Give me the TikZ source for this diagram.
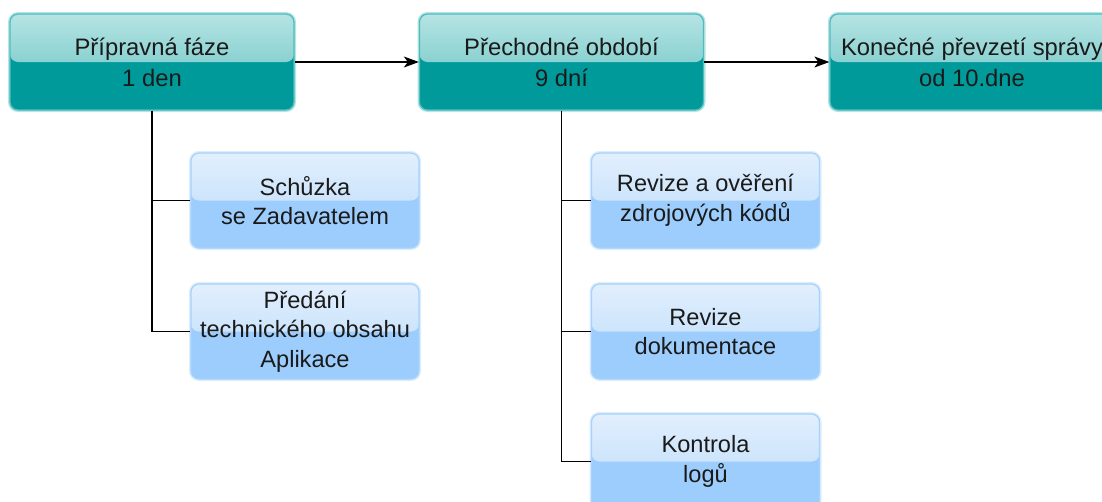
\documentclass[tikz,border=0pt]{standalone}
\usepackage{fontspec}
\setmainfont{Liberation Sans}
\usetikzlibrary{arrows.meta}
\definecolor{tealtop}{HTML}{B6E4E4}
\definecolor{tealmid}{HTML}{5FBEBE}
\definecolor{tealbot}{HTML}{009A9A}
\definecolor{tealborder}{HTML}{4FBDBD}
\definecolor{tealglow}{HTML}{B8E4E4}
\definecolor{bluetop}{HTML}{E2EFFD}
\definecolor{bluemid}{HTML}{B7DAFB}
\definecolor{bluebot}{HTML}{9DCDFD}
\definecolor{blueborder}{HTML}{A6D2FB}
\definecolor{blueglow}{HTML}{DCEDFD}
\definecolor{txt}{HTML}{1A1A1A}
\tikzset{
  glossy/.style n args={3}{fill=#3,
    path picture={\fill[top color=#1, bottom color=#2]
      (path picture bounding box.north west) rectangle (path picture bounding box.east);}},
  phasebox/.style={rounded corners=8pt, minimum width=284pt, minimum height=96pt,
    inner sep=0pt, align=center, text=txt,
    font=\fontsize{23.8}{31}\selectfont,
    glossy={tealtop}{tealmid}{tealbot},
    preaction={draw=tealglow, line width=4pt},
    draw=tealborder, line width=1.3pt},
  taskbox/.style={rounded corners=8pt, minimum width=228pt, minimum height=95pt,
    inner sep=0pt, align=center, text=txt,
    font=\fontsize{23.6}{29.5}\selectfont,
    glossy={bluetop}{bluemid}{bluebot},
    preaction={draw=blueglow, line width=4pt},
    draw=blueborder, line width=1.2pt},
  flow/.style={draw=black, line width=1.2pt, -{Stealth[length=15pt,width=11pt,inset=4pt]}},
  branch/.style={draw=black, line width=1.1pt}
}
\begin{document}
\begin{tikzpicture}[x=1pt,y=-1pt]
\clip (0,0) rectangle (1102,501);
\fill[white] (0,0) rectangle (1102,501);

\node[phasebox] (b1) at (152,62) {Přípravná fáze\\1 den};
\node[phasebox] (b2) at (561.5,62) {Přechodné období\\9 dní};
\node[phasebox] (b3) at (972,62) {Konečné převzetí správy\\od 10.dne};

\node[taskbox] (s1) at (305,200.5) {Schůzka\\se Zadavatelem};
\node[taskbox] (s2) at (305,331.5) {Předání\\technického obsahu\\Aplikace};

\node[taskbox] (t1) at (705.5,200.5) {Revize a ověření\\zdrojových kódů};
\node[taskbox] (t2) at (705.5,331.5) {Revize\\dokumentace};
\node[taskbox] (t3) at (705.5,461.5) {Kontrola\\logů};

\draw[flow] (b1.east) -- (b2.west);
\draw[flow] (b2.east) -- (b3.west);

\draw[branch] (b1.south) |- (s1.west);
\draw[branch] (b1.south) |- (s2.west);
\draw[branch] (b2.south) |- (t1.west);
\draw[branch] (b2.south) |- (t2.west);
\draw[branch] (b2.south) |- (t3.west);
\end{tikzpicture}
\end{document}
